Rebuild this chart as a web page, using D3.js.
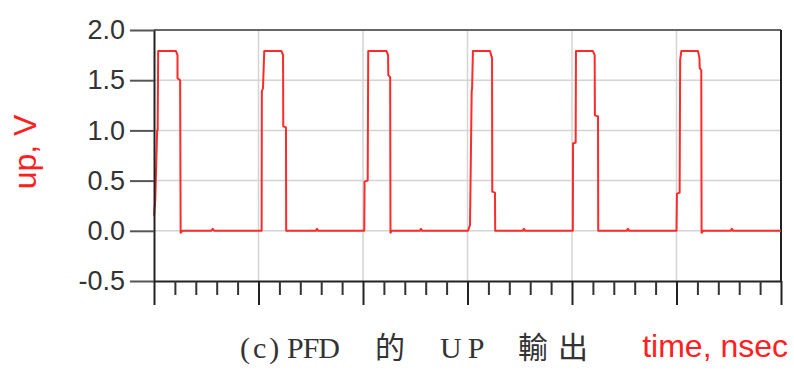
<!DOCTYPE html>
<html>
<head>
<meta charset="utf-8">
<script src="https://cdn.jsdelivr.net/npm/d3@7"></script>
<style>
  html, body { margin: 0; padding: 0; background: #fff; }
  #chart { width: 794px; height: 380px; }
</style>
</head>
<body>
<div id="chart"></div>
<script>
// UP output of the PFD, time in ns, voltage in V
const timeNs = [
  0, 0.12, 0.3, 0.35, 0.4, 2.1, 2.25, 2.25, 2.5, 2.55, 2.7,
  5.5, 5.62, 5.75,
  10.3, 10.32, 10.43, 10.55, 12.2, 12.35, 12.37, 12.63, 12.65,
  15.5, 15.6, 15.7,
  20.12, 20.15, 20.45, 20.5, 22.25, 22.4, 22.42, 22.6, 22.63, 22.75,
  25.45, 25.55, 25.65,
  30.05, 30.24, 30.4, 30.44, 30.52, 32.15, 32.35, 32.37, 32.63, 32.65,
  35.3, 35.4, 35.5,
  40.08, 40.1, 40.35, 40.38, 42.0, 42.17, 42.19, 42.49, 42.51,
  45.25, 45.35, 45.45,
  50.0, 50.04, 50.3, 50.35, 50.46, 52.05, 52.2, 52.22, 52.37, 52.4, 52.55,
  55.2, 55.3, 55.4,
  60
]
const upVolts = [
  0.15, 0.3, 1.0, 1.0, 1.79, 1.79, 1.75, 1.52, 1.5, -0.02, 0,
  0, 0.02, 0,
  0, 1.39, 1.42, 1.79, 1.79, 1.75, 1.04, 1.03, 0,
  0, 0.02, 0,
  0, 0.49, 0.5, 1.79, 1.79, 1.75, 1.55, 1.53, -0.02, 0,
  0, 0.02, 0,
  0, 0.06, 1.39, 1.42, 1.79, 1.79, 1.72, 0.39, 0.38, 0,
  0, 0.02, 0,
  0, 0.87, 0.88, 1.79, 1.79, 1.75, 1.15, 1.14, 0,
  0, 0.02, 0,
  0, 0.37, 0.38, 1.70, 1.79, 1.79, 1.72, 1.62, 1.6, -0.02, 0,
  0, 0.02, 0,
  0
]
const yTicks = [-0.5, 0.0, 0.5, 1.0, 1.5, 2.0]
const xMajorTicks = [0, 10, 20, 30, 40, 50, 60]
const xMinorTicks = d3.range(0, 61, 2).filter(d => d % 10 !== 0)
const captionParts = ['(c)', 'PFD', '的', 'UP', '輸出']

const chart = {}
chart.padding = {left: 154, right: 13, top: 30, bottom: 99}
chart.width = 794
chart.height = 380

chart.svg = d3.select('#chart')
  .append('svg')
  .attr('width', chart.width)
  .attr('height', chart.height)
  .style('font-family', '"Liberation Sans", Arial, sans-serif')

chart.xScale = d3.scaleLinear()
  .domain([0, 60])
  .range([chart.padding.left, chart.width - chart.padding.right])
chart.yScale = d3.scaleLinear()
  .domain([-0.5, 2.0])
  .range([chart.height - chart.padding.bottom, chart.padding.top])

const x = chart.xScale
const y = chart.yScale

// grid
chart.svg.append('g')
  .selectAll('line')
  .data(yTicks.filter(d => d > -0.5 && d < 2.0))
  .join('line')
  .attr('x1', x(0)).attr('x2', x(60))
  .attr('y1', d => y(d)).attr('y2', d => y(d))
  .attr('stroke', '#d4d4d4')
  .attr('stroke-width', 1.5)

chart.svg.append('g')
  .selectAll('line')
  .data(xMajorTicks.filter(d => d > 0 && d < 60))
  .join('line')
  .attr('x1', d => x(d)).attr('x2', d => x(d))
  .attr('y1', y(2.0)).attr('y2', y(-0.5))
  .attr('stroke', '#d4d4d4')
  .attr('stroke-width', 1.5)

// top border
chart.svg.append('line')
  .attr('x1', x(0)).attr('x2', x(60))
  .attr('y1', y(2.0)).attr('y2', y(2.0))
  .attr('stroke', '#666')
  .attr('stroke-width', 2)

// right border
chart.svg.append('line')
  .attr('x1', x(60)).attr('x2', x(60))
  .attr('y1', y(2.0)).attr('y2', y(-0.5))
  .attr('stroke', '#222')
  .attr('stroke-width', 2)

// signal
const points = timeNs.map((t, i) => [t, upVolts[i]])
chart.svg.append('path')
  .datum(points)
  .attr('fill', 'none')
  .attr('stroke', '#ff2a2a')
  .attr('stroke-width', 2)
  .attr('stroke-linejoin', 'round')
  .attr('d', d3.line().x(d => x(d[0])).y(d => y(d[1])))

// y axis (plain hyphen for the minus sign, as in the original)
chart.yAxis = d3.axisLeft(y)
  .tickValues(yTicks)
  .tickFormat(d => d.toFixed(1))
  .tickSize(24)
  .tickSizeOuter(0)
  .tickPadding(5)
const gy = chart.svg.append('g')
  .attr('transform', 'translate(' + x(0) + ',0)')
  .call(chart.yAxis)
gy.select('.domain').attr('stroke', '#222').attr('stroke-width', 2)
gy.selectAll('.tick line').attr('stroke', '#555').attr('stroke-width', 2)
gy.selectAll('.tick text')
  .attr('fill', '#333')
  .style('font-size', '27px')
  .style('font-family', '"Liberation Sans", Arial, sans-serif')

// x axis, major and minor ticks
chart.xAxis = d3.axisBottom(x)
  .tickValues(xMajorTicks)
  .tickFormat('')
  .tickSize(24)
  .tickSizeOuter(0)
const gx = chart.svg.append('g')
  .attr('transform', 'translate(0,' + y(-0.5) + ')')
  .call(chart.xAxis)
gx.select('.domain').attr('stroke', '#222').attr('stroke-width', 2)
gx.selectAll('.tick line').attr('stroke', '#222').attr('stroke-width', 2)

chart.xMinor = d3.axisBottom(x)
  .tickValues(xMinorTicks)
  .tickFormat('')
  .tickSize(14)
  .tickSizeOuter(0)
const gxm = chart.svg.append('g')
  .attr('transform', 'translate(0,' + y(-0.5) + ')')
  .call(chart.xMinor)
gxm.select('.domain').remove()
gxm.selectAll('.tick line').attr('stroke', '#333').attr('stroke-width', 2)

// axis titles
chart.svg.append('text')
  .attr('transform', 'translate(36,152) rotate(-90)')
  .attr('text-anchor', 'middle')
  .attr('fill', '#ff2020')
  .style('font-size', '32px')
  .text('up, V')

chart.svg.append('text')
  .attr('x', 788)
  .attr('y', 357)
  .attr('text-anchor', 'end')
  .attr('fill', '#ff2020')
  .style('font-size', '32px')
  .text('time, nsec')

// caption
const capX = [240, 287, 375, 440, 518]
const capSpacing = [3, -1, 0, 6, 10]
chart.svg.append('text')
  .attr('y', 358)
  .attr('fill', '#333')
  .style('font-size', '30px')
  .style('font-family', '"Liberation Serif", "Noto Sans CJK TC", serif')
  .selectAll('tspan')
  .data(captionParts)
  .join('tspan')
  .attr('x', (d, i) => capX[i])
  .style('letter-spacing', (d, i) => capSpacing[i] + 'px')
  .text(d => d)
</script>
</body>
</html>
